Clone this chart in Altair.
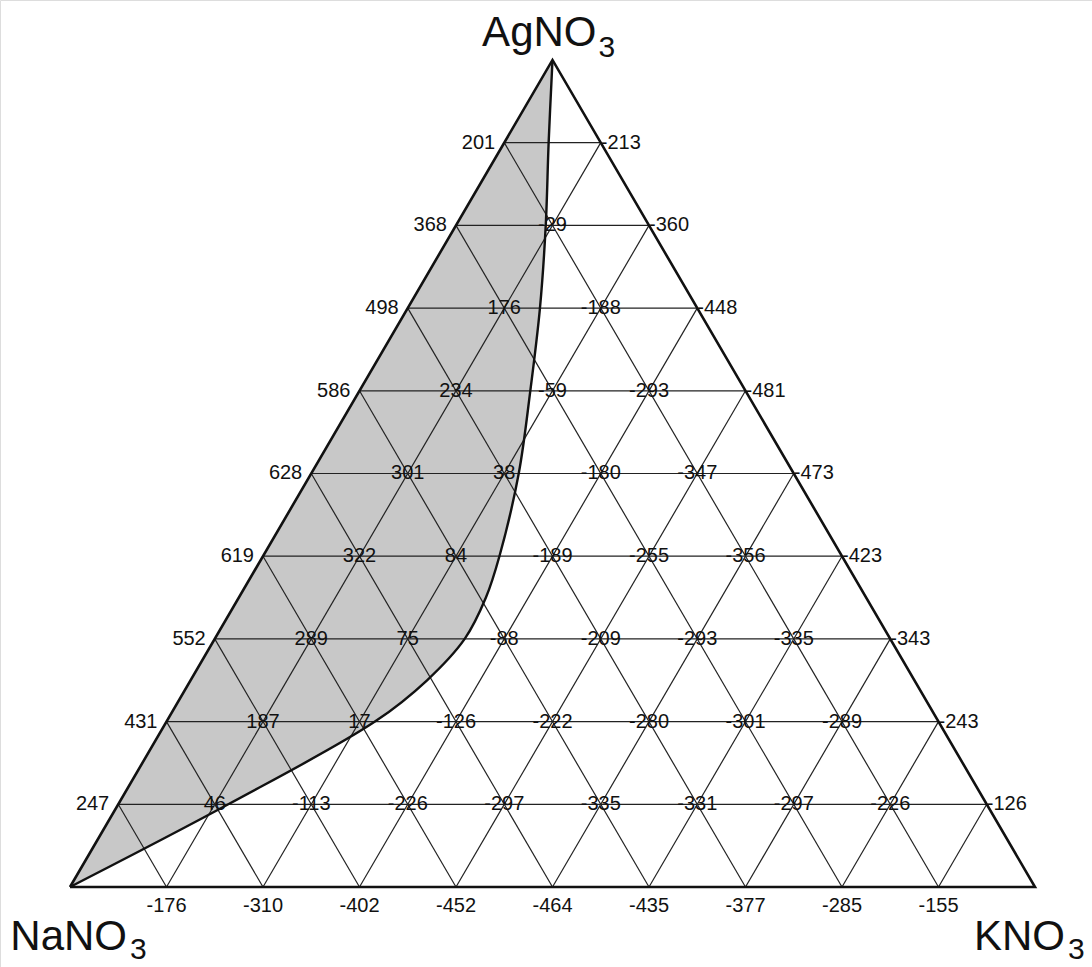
import altair as alt
import pandas as pd

# ---------------- data ----------------
# Ag fraction of each labelled row (top to bottom)
row_ag = [0.9, 0.8, 0.7, 0.6, 0.5, 0.4, 0.3, 0.2, 0.1]
# values along each row, from the NaNO3-AgNO3 edge (K=0) in steps of 0.1 KNO3
row_values = [
    [201, -213],
    [368, -29, -360],
    [498, 176, -188, -448],
    [586, 234, -59, -293, -481],
    [628, 301, 38, -180, -347, -473],
    [619, 322, 84, -189, -255, -356, -423],
    [552, 289, 75, -88, -209, -293, -335, -343],
    [431, 187, 17, -126, -222, -280, -301, -289, -243],
    [247, 46, -113, -226, -297, -335, -331, -297, -226, -126],
]
# NaNO3-KNO3 edge (Ag = 0), K = 0.1 ... 0.9
base_k = [0.1, 0.2, 0.3, 0.4, 0.5, 0.6, 0.7, 0.8, 0.9]
base_values = [-176, -310, -402, -452, -464, -435, -377, -285, -155]

# zero boundary of the shaded region: (Ag fraction, K fraction)
bound_ag = [1.0, 0.9, 0.8, 0.7, 0.6, 0.5, 0.4, 0.35, 0.3, 0.25, 0.2, 0.1, 0.0]
bound_k = [0.0, 0.046, 0.093, 0.137, 0.177, 0.215, 0.245, 0.256, 0.259, 0.245, 0.216, 0.114, 0.0]

grid_steps = [0.1, 0.2, 0.3, 0.4, 0.5, 0.6, 0.7, 0.8, 0.9]

# ---------------- helpers ----------------
def tx(k, ag):
    return k + 0.5 * ag

xs = alt.Scale(domain=[-0.07254, 1.05907], nice=False, zero=False)
ys = alt.Scale(domain=[-0.0967, 1.0725], nice=False, zero=False)

FONT = "Liberation Sans"
INK = "#111111"

# grid segments
seg = []
for s in grid_steps:
    seg.append(dict(x=tx(0, s), y=s, x2=tx(1 - s, s), y2=s))          # constant Ag
    seg.append(dict(x=tx(s, 0), y=0, x2=tx(s, 1 - s), y2=1 - s))      # constant K
    seg.append(dict(x=tx(1 - s, 0), y=0, x2=tx(0, 1 - s), y2=1 - s))  # constant Na
grid_df = pd.DataFrame(seg)

grid = alt.Chart(grid_df).mark_rule(color="#222222", strokeWidth=1.2).encode(
    x=alt.X("x:Q", scale=xs, axis=None),
    y=alt.Y("y:Q", scale=ys, axis=None),
    x2="x2:Q",
    y2="y2:Q",
)

# outer triangle
tri_df = pd.DataFrame({
    "i": [0, 1, 2, 3],
    "x": [tx(0, 0), tx(1, 0), tx(0, 1), tx(0, 0)],
    "y": [0, 0, 1, 0],
})
tri = alt.Chart(tri_df).mark_line(color=INK, strokeWidth=2.6, strokeJoin="miter").encode(
    x=alt.X("x:Q", scale=xs, axis=None),
    y=alt.Y("y:Q", scale=ys, axis=None),
    order="i:Q",
)

# shaded region
area_df = pd.DataFrame({
    "y": bound_ag,
    "xl": [tx(0, a) for a in bound_ag],
    "xr": [tx(k, a) for k, a in zip(bound_k, bound_ag)],
    "i": list(range(len(bound_ag))),
})
area = alt.Chart(area_df).mark_area(
    orient="horizontal", interpolate="catmull-rom", color="#c8c8c8", opacity=1
).encode(
    y=alt.Y("y:Q", scale=ys, axis=None),
    x=alt.X("xl:Q", scale=xs, axis=None),
    x2="xr:Q",
)
bound = alt.Chart(area_df).mark_line(
    interpolate="catmull-rom", color=INK, strokeWidth=2.4
).encode(
    x=alt.X("xr:Q", scale=xs, axis=None),
    y=alt.Y("y:Q", scale=ys, axis=None),
    order="i:Q",
)

# labels
recs = []
for a, vals in zip(row_ag, row_values):
    n = len(vals)
    for j, v in enumerate(vals):
        k = round(j * 0.1, 3)
        if j == 0:
            role = "left"
        elif j == n - 1:
            role = "right"
        else:
            role = "center"
        recs.append(dict(x=tx(k, a), y=a, label=str(v), role=role))
for k, v in zip(base_k, base_values):
    recs.append(dict(x=tx(k, 0), y=0, label=str(v), role="base"))
lab_df = pd.DataFrame(recs)

def text_layer(role, **kw):
    return alt.Chart(lab_df).transform_filter(alt.datum.role == role).mark_text(
        font=FONT, fontSize=20, color=INK, baseline="middle", **kw
    ).encode(
        x=alt.X("x:Q", scale=xs, axis=None),
        y=alt.Y("y:Q", scale=ys, axis=None),
        text="label:N",
    )

lab_left = text_layer("left", align="right", dx=-9)
lab_right = text_layer("right", align="left", dx=0)
lab_center = text_layer("center", align="center")
lab_base = text_layer("base", align="center", dy=19)

# vertex names: main part right-aligned, subscript "3" just after it
vert_df = pd.DataFrame({
    "x": [tx(0, 1), tx(0, 0), tx(1, 0)],
    "y": [1, 0, 0],
    "name": ["AgNO", "NaNO", "KNO"],
    "sub": ["3", "3", "3"],
    "dxn": [44, 57, 30],
    "dyn": [-14, 63, 63],
    "dxs": [46, 60, 33],
    "dys": [-3, 72, 72],
})

vert_layers = []
for _, r in vert_df.iterrows():
    d = pd.DataFrame([r])
    vert_layers.append(
        alt.Chart(d).mark_text(font=FONT, fontSize=42, color=INK, align="right",
                               baseline="alphabetic", dx=float(r.dxn), dy=float(r.dyn)).encode(
            x=alt.X("x:Q", scale=xs, axis=None), y=alt.Y("y:Q", scale=ys, axis=None), text="name:N")
    )
    vert_layers.append(
        alt.Chart(d).mark_text(font=FONT, fontSize=30, color=INK, align="left",
                               baseline="alphabetic", dx=float(r.dxs), dy=float(r.dys)).encode(
            x=alt.X("x:Q", scale=xs, axis=None), y=alt.Y("y:Q", scale=ys, axis=None), text="sub:N")
    )

chart = alt.layer(
    area, grid, tri, bound, lab_left, lab_right, lab_center, lab_base, *vert_layers
).properties(
    width=1092, height=967, padding=0, autosize=alt.AutoSizeParams(type="none")
).configure_view(stroke=None).configure(background="white")

chart.save("out.html", embed_options={"renderer": "svg", "actions": False})
